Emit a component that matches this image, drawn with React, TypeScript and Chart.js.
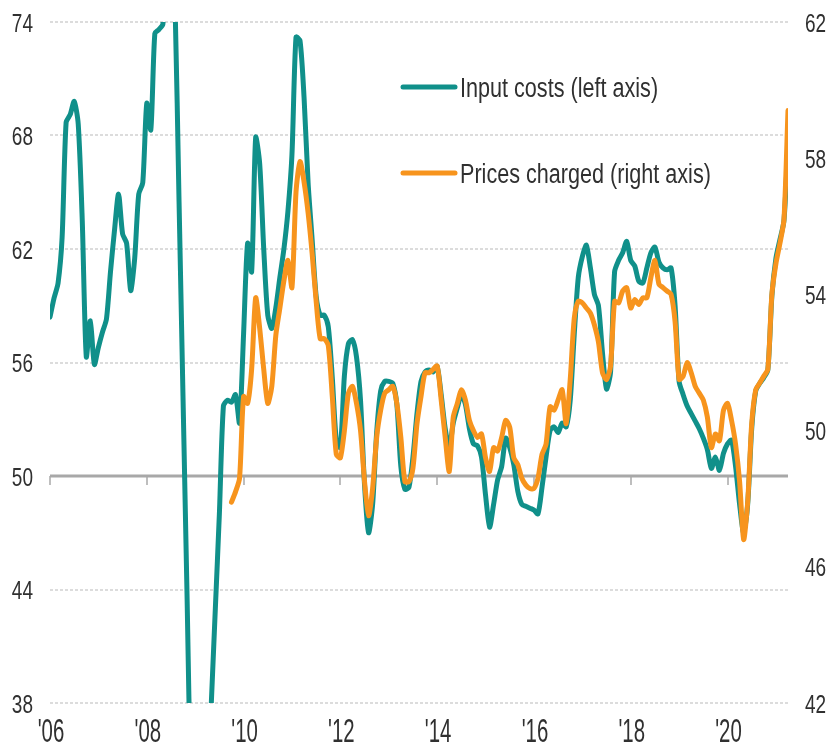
import React, { useEffect, useRef } from "react";
import { Chart, registerables } from "chart.js";

Chart.register(...registerables);

// Monthly readings, input costs start Jan 2006
const inputStart = 2006;
const inputCosts = [
  58.4, 59.4, 60.2, 62.6, 68.7, 69.1, 69.8, 68.6, 63.5, 56.3, 58.2, 55.9,
  56.8, 57.6, 58.3, 60.8, 63.0, 64.9, 62.8, 62.3, 59.8, 61.5, 64.9, 65.5,
  69.7, 68.3, 73.4, 73.6, 73.9, 78.0, 80.0, 75.0, 64.5, 54.0, 43.5, 33.0,
  30.0, 28.0, 29.0, 33.0, 38.0, 43.0, 48.0, 53.7, 54.0, 53.9, 54.3, 52.8,
  57.5, 62.3, 60.8, 67.9, 66.5, 62.0, 58.5, 57.8, 58.9, 60.5, 62.0, 64.0,
  67.0, 73.2, 73.0, 70.0, 65.5, 62.5, 59.5, 58.5, 58.5, 57.9, 55.2, 51.9,
  51.5, 55.3, 57.0, 57.2, 56.3, 54.0, 49.5, 47.0, 48.5, 52.3, 54.5, 55.0,
  55.0, 54.9, 53.8, 50.5, 49.3, 49.4, 51.0, 53.3, 55.0, 55.5, 55.6, 55.5,
  55.8, 54.3, 52.5, 51.5, 52.8, 53.6, 54.3, 53.8, 52.5, 51.7, 51.6, 51.0,
  49.0, 47.3, 48.5, 49.8, 50.5, 52.0, 51.5, 50.6, 49.2, 48.5, 48.4, 48.3,
  48.2, 48.0, 49.4, 51.0, 52.4, 52.6, 52.3, 52.8, 52.6, 54.0, 57.5, 60.5,
  61.6, 62.2, 61.0, 59.6, 59.0, 56.5, 54.6, 55.5, 60.8, 61.4, 61.8, 62.4,
  61.4, 61.1, 60.3, 60.2, 61.0, 61.8, 62.1, 61.3, 61.0, 60.9, 61.0, 59.0,
  55.0, 54.3, 53.7, 53.3, 52.9, 52.5, 52.0, 51.4, 50.4, 51.0, 50.3, 51.2,
  51.7, 51.9, 50.5, 48.5, 47.0, 48.5, 52.5, 54.5, 54.9, 55.2, 55.6, 59.5,
  61.5, 62.5, 63.5, 67.5,
];

// Monthly readings, prices charged start Oct 2009
const pricesStart = 2009 + 9 / 12;
const pricesCharged = [
  47.9, 48.2, 48.6,
  51.0, 50.8, 51.8, 53.9, 53.0, 51.8, 50.8, 51.3, 52.8, 53.6, 54.4, 55.0,
  54.2, 57.0, 57.9, 57.3, 56.4, 55.2, 53.8, 52.7, 52.7, 52.5, 51.0, 49.3,
  49.2, 50.0, 51.1, 51.3, 50.8, 50.0, 48.5, 47.5, 48.3, 49.8, 50.6, 51.1,
  51.2, 51.3, 50.8, 49.8, 48.5, 48.5, 48.9, 50.2, 51.0, 51.7, 51.7, 51.8,
  51.9, 50.9, 49.8, 48.8, 50.4, 50.8, 51.2, 50.9, 50.3, 50.0, 49.8, 49.9,
  49.2, 48.8, 49.5, 49.4, 49.8, 50.3, 50.1, 49.2, 49.0, 48.6, 48.4, 48.3,
  48.3, 48.6, 49.3, 49.6, 50.7, 50.6, 50.9, 51.2, 50.2, 51.5, 53.3, 53.8,
  53.75, 53.6, 53.45, 53.1, 52.6, 51.7, 51.5, 51.9, 53.8, 53.75, 54.1, 54.2,
  53.6, 53.85, 53.7, 53.9, 53.9, 54.5, 55.0, 54.3, 54.2, 54.1, 54.0, 53.2,
  51.5, 51.6, 52.0, 51.7, 51.3, 51.1, 50.9, 50.4, 49.5, 49.9, 49.7, 50.6,
  50.8, 50.3, 49.6, 48.5, 46.8, 47.9, 50.2, 51.2, 51.4, 51.6, 51.8, 54.0,
  54.9, 55.5, 56.2, 59.4,
];

const leftTicks = [38, 44, 50, 56, 62, 68, 74];
const rightTicks = [42, 46, 50, 54, 58, 62];
const xTickYears = [2006, 2008, 2010, 2012, 2014, 2016, 2018, 2020];
const xTickLabels = ["'06", "'08", "'10", "'12", "'14", "'16", "'18", "'20"];
const seriesNames = ["Input costs (left axis)", "Prices charged (right axis)"];

const TEAL = "#10908a";
const ORANGE = "#f7941d";
const TEXT = "#303030";
const FONT = '"Liberation Sans", Arial, sans-serif';

function drawText(ctx: CanvasRenderingContext2D, text: string, x: number, y: number, size: number, sx: number, align: CanvasTextAlign) {
  ctx.save();
  ctx.translate(x, y);
  ctx.scale(sx, 1);
  ctx.font = `${size}px ${FONT}`;
  ctx.fillStyle = TEXT;
  ctx.textAlign = align;
  ctx.textBaseline = "alphabetic";
  ctx.fillText(text, 0, 0);
  ctx.restore();
}

const decorPlugin = {
  id: "decor",
  beforeDatasetsDraw(chart: any) {
    const { ctx, chartArea, scales } = chart;
    const yL = scales.yL;
    const x = scales.x;
    ctx.save();
    for (const v of leftTicks) {
      if (v === 50) continue;
      const y = Math.round(yL.getPixelForValue(v));
      ctx.strokeStyle = "#dcdcdc";
      ctx.lineWidth = 2;
      ctx.setLineDash([3, 2]);
      ctx.beginPath();
      ctx.moveTo(chartArea.left, y);
      ctx.lineTo(chartArea.right, y);
      ctx.stroke();
    }
    ctx.setLineDash([]);
    const y50 = Math.round(yL.getPixelForValue(50));
    ctx.strokeStyle = "#a8a8a8";
    ctx.lineWidth = 3;
    ctx.beginPath();
    ctx.moveTo(chartArea.left, y50);
    ctx.lineTo(chartArea.right, y50);
    ctx.stroke();
    ctx.lineWidth = 1.5;
    for (const yr of xTickYears) {
      const px = Math.round(x.getPixelForValue(yr));
      ctx.beginPath();
      ctx.moveTo(px, y50);
      ctx.lineTo(px, y50 + 9);
      ctx.stroke();
    }
    ctx.restore();
  },
  afterDraw(chart: any) {
    const { ctx, scales } = chart;
    const yL = scales.yL;
    const yR = scales.yR;
    const x = scales.x;
    for (const v of leftTicks) {
      drawText(ctx, String(v), 33, yL.getPixelForValue(v) + 9.5, 25, 0.76, "right");
    }
    for (const v of rightTicks) {
      drawText(ctx, String(v), 805, yR.getPixelForValue(v) + 9.5, 25, 0.76, "left");
    }
    xTickYears.forEach((yr, i) => {
      drawText(ctx, xTickLabels[i], x.getPixelForValue(yr) + 1, 742, 34, 0.6, "center");
    });
    const items = [
      { color: TEAL, y: 87 },
      { color: ORANGE, y: 173 },
    ];
    items.forEach((it, i) => {
      ctx.save();
      ctx.strokeStyle = it.color;
      ctx.lineWidth = 5;
      ctx.lineCap = "round";
      ctx.beginPath();
      ctx.moveTo(403, it.y);
      ctx.lineTo(455, it.y);
      ctx.stroke();
      ctx.restore();
      drawText(ctx, seriesNames[i], 460, it.y + 10, 27, 0.8, "left");
    });
  },
};

export default function App() {
  const ref = useRef<HTMLCanvasElement | null>(null);
  useEffect(() => {
    if (!ref.current) return;
    const tealPts = inputCosts.map((v, i) => ({ x: inputStart + i / 12, y: v }));
    const orangePts = pricesCharged.map((v, i) => ({ x: pricesStart + i / 12, y: v }));
    const chart = new Chart(ref.current, {
      type: "line",
      data: {
        datasets: [
          {
            label: seriesNames[1],
            data: orangePts,
            yAxisID: "yR",
            borderColor: ORANGE,
            borderWidth: 5,
            pointRadius: 0,
            tension: 0.25,
            borderJoinStyle: "round",
            borderCapStyle: "round",
            order: 0,
          },
          {
            label: seriesNames[0],
            data: tealPts,
            yAxisID: "yL",
            borderColor: TEAL,
            borderWidth: 5,
            pointRadius: 0,
            tension: 0.25,
            borderJoinStyle: "round",
            borderCapStyle: "round",
            order: 1,
          },
        ],
      },
      options: {
        animation: false,
        responsive: false,
        devicePixelRatio: 1,
        layout: { padding: { left: 50, right: 43, top: 22, bottom: 47 } },
        plugins: { legend: { display: false }, tooltip: { enabled: false } },
        scales: {
          x: { type: "linear", min: 2006, max: 2021.25, display: false },
          yL: { type: "linear", position: "left", min: 38, max: 74, display: false },
          yR: { type: "linear", position: "right", min: 42, max: 62, display: false },
        },
      },
      plugins: [decorPlugin],
    } as any);
    return () => chart.destroy();
  }, []);
  return (
    <div style={{ position: "absolute", left: 0, top: 0, width: 831, height: 750, background: "#fff" }}>
      <canvas ref={ref} width={831} height={750} style={{ width: 831, height: 750, display: "block" }} />
    </div>
  );
}
